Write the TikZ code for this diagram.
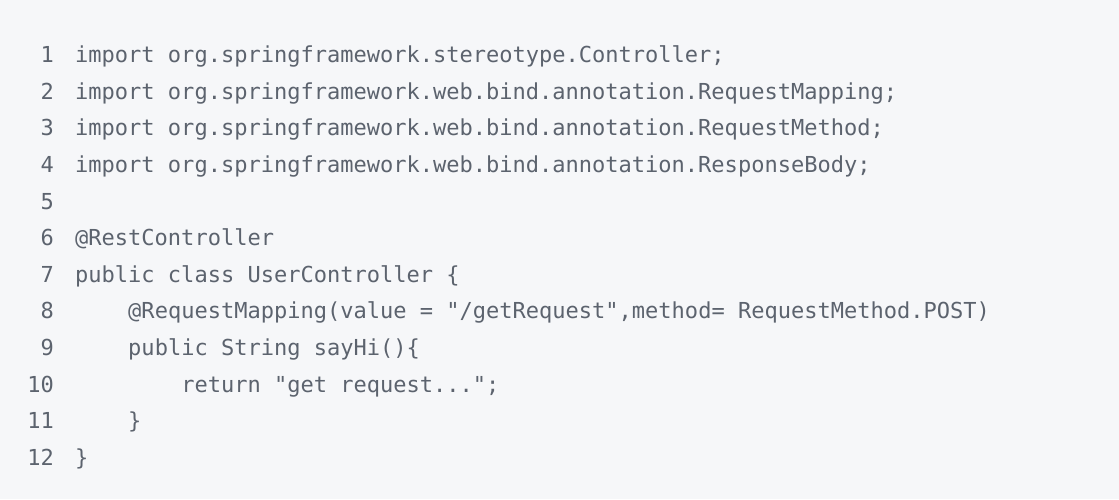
\documentclass[tikz,border=0pt]{standalone}
\usepackage{fontspec}
\newfontfamily\codefont{DejaVu Sans Mono}
\definecolor{bgc}{HTML}{F6F7F9}
\definecolor{codec}{HTML}{5C636E}
\definecolor{numc}{HTML}{5C636E}
\begin{document}
\begin{tikzpicture}[x=1pt,y=1pt,
  codeline/.style={anchor=base west,inner sep=0pt,text=codec,font=\codefont\fontsize{22.02}{30}\selectfont},
  numline/.style={anchor=base east,inner sep=0pt,text=numc,font=\codefont\fontsize{22.02}{30}\selectfont}]
\fill[bgc] (0,0) rectangle (1119,499);
\useasboundingbox (0,0) rectangle (1119,499);
\def\cw{13.26}
\def\bl#1{499-62.7-(#1-1)*36.6}
\foreach \i in {1,...,12}{
  \node[numline] (n\i) at (54,{\bl{\i}}) {\i};
}
\node[codeline] (c1) at (75,{\bl{1}}) {import org.springframework.stereotype.Controller;};
\node[codeline] (c2) at (75,{\bl{2}}) {import org.springframework.web.bind.annotation.RequestMapping;};
\node[codeline] (c3) at (75,{\bl{3}}) {import org.springframework.web.bind.annotation.RequestMethod;};
\node[codeline] (c4) at (75,{\bl{4}}) {import org.springframework.web.bind.annotation.ResponseBody;};
\node[codeline] (c6) at (75,{\bl{6}}) {@RestController};
\node[codeline] (c7) at (75,{\bl{7}}) {public class UserController \{};
\node[codeline] (c8) at ({75+4*\cw},{\bl{8}}) {@RequestMapping(value = "/getRequest",method= RequestMethod.POST)};
\node[codeline] (c9) at ({75+4*\cw},{\bl{9}}) {public String sayHi()\{};
\node[codeline] (c10) at ({75+8*\cw},{\bl{10}}) {return "get request...";};
\node[codeline] (c11) at ({75+4*\cw},{\bl{11}}) {\}};
\node[codeline] (c12) at (75,{\bl{12}}) {\}};
\end{tikzpicture}
\end{document}
